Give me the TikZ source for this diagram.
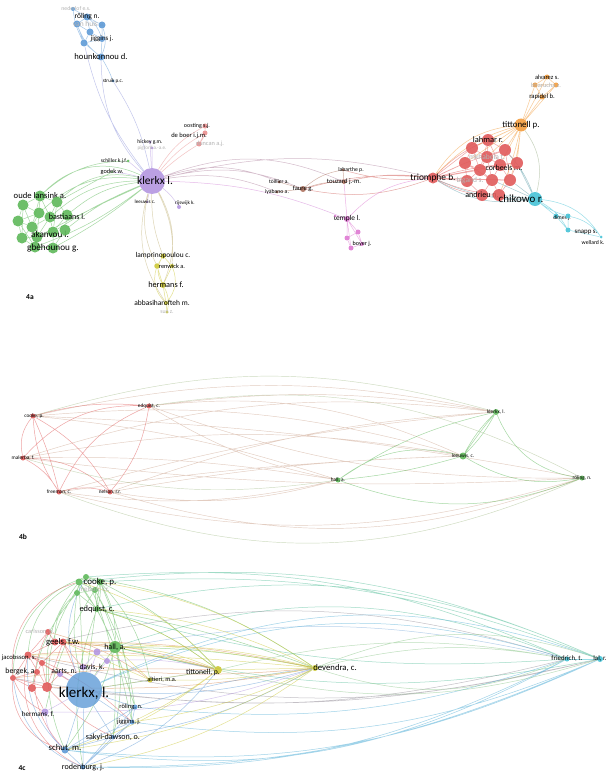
\documentclass[tikz,border=0pt]{standalone}
\usepackage{fontspec}
\setmainfont{Carlito}
\usetikzlibrary{backgrounds}

\definecolor{vBlue}{RGB}{95,155,215}
\definecolor{vGreen}{RGB}{95,185,90}
\definecolor{vPurple}{RGB}{180,150,225}
\definecolor{vRed}{RGB}{225,90,90}
\definecolor{vOrange}{RGB}{243,157,62}
\definecolor{vCyan}{RGB}{70,195,215}
\definecolor{vYellow}{RGB}{205,200,55}
\definecolor{vBrown}{RGB}{175,115,95}
\definecolor{vPink}{RGB}{222,120,210}
\definecolor{vRose}{RGB}{235,145,145}
\definecolor{vMix}{RGB}{185,130,100}

\begin{document}
\begin{tikzpicture}[
    x=1pt, y=-1pt,
    vtx/.style={circle, fill=#1, fill opacity=0.9, draw=none, inner sep=0pt},
    lab/.style={/utils/exec={\pgfmathsetmacro\labsize{1.15*#1}}, font=\fontsize{\labsize}{\labsize}\selectfont, text=black, text opacity=1, inner sep=0pt},
    faint/.style={text=black!30},
    ed/.style={draw=#1, line width=0.5pt, draw opacity=0.55},
    fade/.style={draw=#1, line width=0.45pt, draw opacity=0.4},
    tag/.style={font=\fontsize{7.5}{7.5}\selectfont\bfseries}
]
\useasboundingbox (0,0) rectangle (607,781);

% ================= 4a =================
% Blue cluster
\node[vtx=vBlue, minimum size=4, label={[lab=5,faint,xshift=3pt]center:nederlof e.s.}] (ned) at (73,9) {};
\node[vtx=vBlue, minimum size=7, label={[lab=6.5]center:röling n.}] (rol) at (87,17) {};
\node[vtx=vBlue, minimum size=7, label={[lab=6.5,faint,xshift=12pt]center:van huis a.}] (vhu) at (77,24) {};
\node[vtx=vBlue, minimum size=7] (bl3) at (102,25) {};
\node[vtx=vBlue, minimum size=7] (bl4) at (90,32) {};
\node[vtx=vBlue, minimum size=7] (bl5) at (84,43) {};
\node[vtx=vBlue, minimum size=6, label={[lab=6]center:jiggins j.}] (jig) at (102,39) {};
\node[vtx=vBlue, minimum size=7, label={[lab=7.5]center:hounkonnou d.}] (hou) at (101,57) {};
\node[vtx=vBlue, minimum size=3, label={[lab=4.5]center:struik p.c.}] (str) at (113,81) {};

% Purple (klerkx)
\node[vtx=vPurple, minimum size=26, label={[lab=10,xshift=3pt]center:klerkx l.}] (kle) at (152,181) {};
\node[vtx=vPurple, minimum size=3, label={[lab=4.8]center:hickey g.m.}] (hic) at (150,142) {};
\node[vtx=vPurple, minimum size=3, label={[lab=4.5,faint]center:pigford a.-a.e.}] (pig) at (152,148) {};
\node[vtx=vPurple, minimum size=2.5, label={[lab=4.5,xshift=-2pt]center:leeuwis c.}] (lee) at (147,202) {};
\node[vtx=vPurple, minimum size=4, label={[lab=4.5,xshift=6pt,yshift=4pt]center:rijswijk k.}] (rij) at (179,207) {};

% Rose
\node[vtx=vRose, minimum size=5, label={[lab=5.2,xshift=-8pt]center:oosting s.j.}] (oos) at (205,126) {};
\node[vtx=vRose, minimum size=5, label={[lab=5.7,xshift=-16pt,yshift=-3pt]center:de boer i.j.m.}] (dbo) at (205,133) {};
\node[vtx=vRose, minimum size=5, label={[lab=5.5,faint,xshift=11pt]center:duncan a.j.}] (dun) at (199,144) {};

% Green
\node[vtx=vGreen, minimum size=3, label={[lab=4.8,xshift=-14pt]center:schiller k.j.f.}] (sch) at (128,161) {};
\node[vtx=vGreen, minimum size=2, label={[lab=5.5]center:godek w.}] (god) at (112,172) {};
\node[vtx=vGreen, minimum size=11, label={[lab=7.5]center:oude lansink a.}] (gr1) at (40,196) {};
\node[vtx=vGreen, minimum size=11] (gr2) at (23,205) {};
\node[vtx=vGreen, minimum size=11] (gr3) at (57,202) {};
\node[vtx=vGreen, minimum size=11] (gr4) at (39,213) {};
\node[vtx=vGreen, minimum size=11] (gr5) at (18,221) {};
\node[vtx=vGreen, minimum size=11] (gr6) at (50,217) {};
\node[vtx=vGreen, minimum size=11, label={[lab=7,yshift=-2pt]center:bastiaans l.}] (gr7) at (67,215) {};
\node[vtx=vGreen, minimum size=11] (gr8) at (32,227) {};
\node[vtx=vGreen, minimum size=11] (gr9) at (22,238) {};
\node[vtx=vGreen, minimum size=11] (gr10) at (37,237) {};
\node[vtx=vGreen, minimum size=11, label={[lab=8,xshift=-3pt,yshift=-2pt]center:akanvou l.}] (gr11) at (53,232) {};
\node[vtx=vGreen, minimum size=11] (gr12) at (35,247) {};
\node[vtx=vGreen, minimum size=11, label={[lab=8]center:gbèhounou g.}] (gr13) at (53,248) {};
\node[vtx=vGreen, minimum size=11] (gr14) at (65,230) {};

% Yellow
\node[vtx=vYellow, minimum size=5, label={[lab=6.4]center:lamprinopoulou c.}] (lam) at (163,256) {};
\node[vtx=vYellow, minimum size=5.5] (ren1) at (157,266) {};
\node[vtx=vYellow, minimum size=4, label={[lab=5.5]center:renwick a.}] (ren2) at (172,266) {};
\node[vtx=vYellow, minimum size=6, label={[lab=7.2,xshift=3pt]center:hermans f.}] (her) at (163,285) {};
\node[vtx=vYellow, minimum size=4, label={[lab=6.5,xshift=-4pt]center:abbasiharofteh m.}] (abb) at (166,303) {};
\node[vtx=vYellow, minimum size=3, label={[lab=5,faint]center:sun z.}] (sun) at (167,312) {};

% Brown and pink
\node[vtx=vBrown, minimum size=3, label={[lab=4.8]center:toillier a.}] (toi) at (279,182) {};
\node[vtx=vBrown, minimum size=3, label={[lab=5]center:iyabano a.}] (iya) at (277,192) {};
\node[vtx=vBrown, minimum size=6, label={[lab=5.7]center:faure g.}] (fau) at (303,189) {};
\node[vtx=vBrown, minimum size=3, label={[lab=5,xshift=8pt]center:labarthe p.}] (lab) at (343,170) {};
\node[vtx=vBrown, minimum size=4, label={[lab=5.8]center:touzard j.-m.}] (tou) at (344,182) {};
\node[vtx=vPink, minimum size=6, label={[lab=6.4]center:temple l.}] (tem) at (347,219) {};
\node[vtx=vPink, minimum size=2.5] (tp0) at (335,216) {};
\node[vtx=vPink, minimum size=5] (by1) at (358,232) {};
\node[vtx=vPink, minimum size=5] (by2) at (347,238) {};
\node[vtx=vPink, minimum size=4, label={[lab=5.3]center:boyer j.}] (by3) at (362,244) {};
\node[vtx=vPink, minimum size=5] (by4) at (351,248) {};

% Red cluster
\node[vtx=vRed, minimum size=11, label={[lab=8.2]center:triomphe b.}] (tri) at (433,178) {};
\node[vtx=vRed, minimum size=12, label={[lab=7.3]center:lahmar r.}] (lah) at (488,140) {};
\node[vtx=vRed, minimum size=12] (rc2) at (505,150) {};
\node[vtx=vRed, minimum size=12] (rc3) at (472,148) {};
\node[vtx=vRed, minimum size=12, label={[lab=6.5,faint]center:mkhabela t.}] (rc4) at (487,157) {};
\node[vtx=vRed, minimum size=12] (rc5) at (465,163) {};
\node[vtx=vRed, minimum size=12, label={[lab=6.8,xshift=4pt,yshift=-3pt]center:corbeels m.}] (rc6) at (500,165) {};
\node[vtx=vRed, minimum size=12] (rc7) at (517,163) {};
\node[vtx=vRed, minimum size=12] (rc8) at (480,170) {};
\node[vtx=vRed, minimum size=12] (rc9) at (492,180) {};
\node[vtx=vRed, minimum size=12] (rc10) at (510,180) {};
\node[vtx=vRed, minimum size=12, label={[lab=6.5,faint,xshift=3pt]center:bigand s.}] (rc11) at (467,181) {};
\node[vtx=vRed, minimum size=12, label={[lab=7]center:andrieu n.}] (rc12) at (482,195) {};
\node[vtx=vRed, minimum size=12] (rc13) at (499,195) {};

% Orange
\node[vtx=vOrange, minimum size=13, label={[lab=7.7]center:tittonell p.}] (tit) at (521,125) {};
\node[vtx=vOrange, minimum size=5, label={[lab=5.6]center:alvarez s.}] (alv) at (547,77) {};
\node[vtx=vOrange, minimum size=5] (ora2) at (535,85) {};
\node[vtx=vOrange, minimum size=5, label={[lab=5.5,faint,xshift=-10pt]center:bharucha z.}] (ora3) at (556,85) {};
\node[vtx=vOrange, minimum size=5, label={[lab=5.8]center:rapidel b.}] (rap) at (542,97) {};

% Cyan
\node[vtx=vCyan, minimum size=14, label={[lab=9.5,xshift=-14pt]center:chikowo r.}] (chi) at (535,199) {};
\node[vtx=vCyan, minimum size=5, label={[lab=4.8,xshift=6pt,yshift=-2pt]center:dimes j.}] (dim) at (556,216) {};
\node[vtx=vCyan, minimum size=5] (cya2) at (568,216) {};
\node[vtx=vCyan, minimum size=5, label={[lab=6,xshift=18pt,yshift=-2pt]center:snapp s.}] (sna) at (568,230) {};
\node[vtx=vCyan, minimum size=3, label={[lab=5,xshift=-8pt,yshift=-6pt]center:wellard k.}] (wel) at (601,237) {};

\node[tag] (tag4a) at (30,297) {4a};

% ================= 4b =================
\node[vtx=vRed, minimum size=5, label={[lab=4.6,xshift=1pt]center:{cooke, p.}}] (bco) at (33,416) {};
\node[vtx=vRed, minimum size=5, label={[lab=4.6]center:{edquist, c.}}] (bed) at (149,406) {};
\node[vtx=vRed, minimum size=5, label={[lab=4.6]center:{malerba, f.}}] (bma) at (23,458) {};
\node[vtx=vRed, minimum size=5, label={[lab=4.6]center:{freeman, c.}}] (bfr) at (59,492) {};
\node[vtx=vRed, minimum size=5, label={[lab=4.6]center:{nelson, r.r.}}] (bne) at (110,492) {};
\node[vtx=vGreen, minimum size=6, label={[lab=4.6]center:{klerkx, l.}}] (bkl) at (496,412) {};
\node[vtx=vGreen, minimum size=7, label={[lab=4.6]center:{leeuwis, c.}}] (ble) at (463,456) {};
\node[vtx=vGreen, minimum size=5, label={[lab=4.6]center:{hall, a.}}] (bha) at (338,480) {};
\node[vtx=vGreen, minimum size=5, label={[lab=4.6]center:{röling, n.}}] (bro) at (582,478) {};

\node[tag] (tag4b) at (23,537) {4b};

% ================= 4c =================
% Green
\node[vtx=vGreen, minimum size=7] (ck1) at (79,582) {};
\node[vtx=vGreen, minimum size=6] (ck2) at (86,577) {};
\node[vtx=vGreen, minimum size=7, label={[lab=7.8]center:{cooke, p.}}] (ck3) at (100,582) {};
\node[vtx=vGreen, minimum size=6, label={[lab=6,faint]center:{nelson, r.r.}}] (ck4) at (95,590) {};
\node[vtx=vGreen, minimum size=6] (ck5) at (77,593) {};
\node[vtx=vGreen, minimum size=6, label={[lab=7.3]center:{edquist, c.}}] (edq) at (97,609) {};
\node[vtx=vGreen, minimum size=12, label={[lab=7]center:{hall, a.}}] (hal) at (115,647) {};
% Red
\node[vtx=vRed, minimum size=6, label={[lab=5.5,faint,xshift=-8pt]center:{carlsson, b.}}] (ge1) at (48,632) {};
\node[vtx=vRed, minimum size=7] (ge2) at (55,642) {};
\node[vtx=vRed, minimum size=7, label={[lab=7.5]center:{geels, f.w.}}] (ge3) at (63,642) {};
\node[vtx=vRed, minimum size=7, label={[lab=5.8,xshift=-9pt,yshift=-3pt]center:{jacobsson, s.}}] (jac) at (28,655) {};
\node[vtx=vRed, minimum size=6, label={[lab=6.8,xshift=8pt,yshift=7pt]center:{bergek, a.}}] (ber) at (13,678) {};
\node[vtx=vRed, minimum size=6] (rd1) at (42,663) {};
\node[vtx=vRed, minimum size=6] (rd2) at (37,672) {};
\node[vtx=vRed, minimum size=8] (rd3) at (32,688) {};
\node[vtx=vRed, minimum size=10] (rd4) at (47,687) {};
% Purple
\node[vtx=vPurple, minimum size=6, label={[lab=6.7,xshift=4pt,yshift=2pt]center:{aarts, n.}}] (aar) at (60,674) {};
\node[vtx=vPurple, minimum size=7] (dv1) at (97,652) {};
\node[vtx=vPurple, minimum size=6] (dv2) at (107,661) {};
\node[vtx=vPurple, minimum size=6, label={[lab=6.7,xshift=9pt]center:{davis, k.}}] (dav) at (83,667) {};
\node[vtx=vPurple, minimum size=7, label={[lab=6.2,xshift=-7pt,yshift=-2pt]center:{hermans, f.}}] (h4c) at (45,712) {};
% Blue
\node[vtx=vBlue, minimum size=36, fill opacity=0.8, label={[lab=13,yshift=-3pt]center:{klerkx, l.}}] (kl) at (84,690) {};
\node[vtx=vBlue, minimum size=5, label={[lab=5.6,xshift=-4pt]center:{röling, n.}}] (r4c) at (135,707) {};
\node[vtx=vBlue, minimum size=5, label={[lab=5.8,xshift=-3pt]center:{jiggins, j.}}] (j4c) at (132,722) {};
\node[vtx=vBlue, minimum size=4, label={[lab=7]center:{sakyi-dawson, o.}}] (sak) at (113,737) {};
\node[vtx=vBlue, minimum size=7, label={[lab=7.6,yshift=2pt]center:{schut, m.}}] (s4c) at (65,750) {};
\node[vtx=vBlue, minimum size=5, label={[lab=7]center:{rodenburg, j.}}] (rod) at (83,767) {};
% Yellow
\node[vtx=vYellow, minimum size=5, label={[lab=5.5,xshift=12pt]center:{altieri, m.a.}}] (alt) at (150,680) {};
\node[vtx=vYellow, minimum size=8, label={[lab=6.6,xshift=-15pt,yshift=-2pt]center:{tittonell, p.}}] (t4c) at (218,670) {};
\node[vtx=vYellow, minimum size=6, label={[lab=7.6,xshift=20pt]center:{devendra, c.}}] (dev) at (315,668) {};
% Cyan
\node[vtx=vCyan, minimum size=5, label={[lab=6]center:{friedrich, t.}}] (fri) at (567,659) {};
\node[vtx=vCyan, minimum size=6, label={[lab=6]center:{lal, r.}}] (lal) at (600,659) {};

\node[tag] (tag4c) at (22,768) {4c};

\begin{scope}[on background layer]
\fill[white] (0,0) rectangle (607,781);

% ---- 4a links ----
% blue cluster
\draw[ed=vBlue] (ned) -- (rol) (ned) to[bend right=10] (bl5) (rol) -- (bl3) (rol) -- (bl4) (rol) -- (vhu) (vhu) -- (bl4) (vhu) -- (bl5) (bl3) -- (jig) (bl4) -- (jig) (bl4) -- (bl5) (bl5) -- (jig) (bl3) to[bend left=20] (hou) (jig) -- (hou) (bl5) -- (hou) (vhu) to[bend right=15] (hou) (rol) to[bend left=15] (jig) (hou) to[bend left=5] (str);
\draw[ed=vPurple!60!vBlue] (hou) to[bend right=20] (kle) (str) to[bend left=10] (kle) (bl5) to[bend right=12] (kle);

% klerkx neighbours
\draw[ed=vPurple] (kle) -- (hic) (kle) -- (pig) (kle) -- (lee) (kle) to[bend left=10] (rij) (kle) -- (sch) (kle) to[bend right=5] (god);
\draw[ed=vRose] (kle) to[bend left=15] (oos) (kle) to[bend left=10] (dbo) (kle) to[bend left=5] (dun) (oos) -- (dbo) (dbo) -- (dun) (oos) to[bend left=20] (dun);

% green cluster
\draw[ed=vGreen] (gr1) -- (gr2) (gr1) -- (gr3) (gr1) -- (gr4) (gr1) -- (gr6) (gr2) -- (gr4) (gr2) -- (gr5) (gr3) -- (gr6) (gr3) -- (gr7) (gr4) -- (gr5) (gr4) -- (gr6) (gr4) -- (gr8) (gr5) -- (gr8) (gr5) -- (gr9) (gr6) -- (gr7) (gr6) -- (gr11) (gr6) -- (gr8) (gr7) -- (gr14) (gr8) -- (gr9) (gr8) -- (gr10) (gr8) -- (gr12) (gr9) -- (gr12) (gr10) -- (gr12) (gr10) -- (gr11) (gr11) -- (gr13) (gr11) -- (gr14) (gr12) -- (gr13) (gr13) -- (gr14) (gr1) -- (gr8) (gr3) -- (gr11) (gr2) -- (gr8) (gr4) -- (gr10) (gr7) -- (gr11) (gr9) -- (gr10) (gr5) -- (gr12) (gr2) -- (gr9) (gr6) -- (gr10);
\draw[ed=vGreen] (gr1) to[bend left=35] (kle) (gr3) to[bend left=28] (kle) (gr4) to[bend left=25] (kle) (gr6) to[bend left=20] (kle) (gr7) to[bend left=16] (kle) (gr14) to[bend left=8] (kle) (gr11) to[bend left=5] (kle) (gr10) to[bend left=2] (kle) (gr13) to[bend right=5] (kle) (gr12) to[bend right=8] (kle) (sch) to[bend right=20] (gr1) (god) -- (gr3);

% yellow
\draw[ed=vYellow] (lam) -- (ren1) (lam) -- (ren2) (ren1) -- (her) (ren2) -- (her) (ren1) to[bend right=30] (abb) (ren2) to[bend left=30] (abb) (her) -- (abb) (abb) -- (sun) (her) to[bend left=20] (sun) (lam) to[bend right=30] (her);
\draw[ed=vYellow!60!vPurple] (kle) to[bend right=20] (ren1) (kle) to[bend left=15] (ren2) (kle) to[bend right=10] (lam) (kle) to[bend left=25] (her) (kle) to[bend right=25] (abb);

% links to the right
\draw[ed=vPurple!50!vBrown] (kle) to[bend left=20] (toi) (kle) to[bend left=15] (iya) (kle) to[bend left=18] (fau) (kle) to[bend left=22] (tou) (kle) to[bend left=14] (tri);
\draw[ed=vPink!70!vPurple] (kle) to[bend left=10] (tem);
\draw[ed=vBrown] (toi) -- (fau) (iya) -- (fau) (fau) to[bend left=10] (tou) (fau) to[bend left=15] (lab) (lab) -- (tou);
\draw[ed=vRed!70!vBrown] (fau) to[bend left=10] (tri) (fau) to[bend right=15] (tri) (tou) to[bend left=10] (tri) (lab) to[bend right=10] (tri);
\draw[ed=vPink] (tem) -- (tou) (tem) -- (tp0) (tem) -- (by1) (tem) -- (by2) (tem) -- (by3) (tem) -- (by4) (by1) -- (by3) (by2) -- (by4) (by3) -- (by4) (by1) -- (by2) (tem) to[bend left=20] (tri);

% red cluster
\draw[ed=vRed] (tri) to[bend left=10] (lah) (tri) -- (rc3) (tri) -- (rc5) (tri) -- (rc8) (tri) -- (rc11) (tri) to[bend right=10] (rc12) (tri) to[bend right=8] (rc13) (tri) to[bend left=5] (rc2) (tri) -- (rc6) (tri) -- (rc9) (tri) -- (rc10) (tri) to[bend left=5] (rc7);
\draw[ed=vRed] (lah) -- (rc2) (lah) -- (rc3) (lah) -- (rc4) (lah) -- (rc6) (rc2) -- (rc7) (rc2) -- (rc4) (rc3) -- (rc5) (rc3) -- (rc4) (rc4) -- (rc6) (rc4) -- (rc8) (rc5) -- (rc8) (rc5) -- (rc11) (rc6) -- (rc7) (rc6) -- (rc9) (rc6) -- (rc10) (rc7) -- (rc10) (rc8) -- (rc9) (rc8) -- (rc11) (rc9) -- (rc10) (rc9) -- (rc12) (rc9) -- (rc13) (rc10) -- (rc13) (rc11) -- (rc12) (rc12) -- (rc13) (rc5) -- (rc9) (rc3) -- (rc8) (rc4) -- (rc9) (lah) -- (rc8) (rc2) -- (rc10);

% orange
\draw[ed=vOrange] (tit) -- (alv) (tit) -- (ora2) (tit) -- (ora3) (tit) -- (rap) (alv) -- (ora2) (alv) -- (ora3) (ora2) -- (rap) (ora3) -- (rap) (ora2) -- (ora3) (tit) to[bend right=25] (tri) (tit) to[bend right=15] (tri) (tit) -- (lah) (tit) -- (rc2) (tit) -- (rc3) (tit) -- (rc4) (tit) -- (rc6) (tit) -- (rc7) (tit) -- (rc5) (tit) to[bend left=5] (rc10) (tit) to[bend left=5] (rc13);
\draw[ed=vOrange!50!vCyan] (tit) to[bend left=25] (chi);

% cyan
\draw[ed=vCyan] (chi) -- (dim) (chi) to[bend right=10] (cya2) (chi) to[bend left=15] (sna) (chi) to[bend left=25] (wel) (dim) -- (cya2) (cya2) -- (sna) (dim) -- (sna) (sna) -- (wel) (cya2) to[bend left=20] (wel);
\draw[ed=vCyan!50!gray] (chi) to[bend left=20] (tri) (chi) to[bend left=12] (tri) (chi) -- (rc13) (chi) -- (rc10) (chi) -- (rc7) (chi) to[bend left=8] (rc12) (chi) -- (rc9) (chi) to[bend right=10] (rc2);

% ---- 4b links ----
\draw[ed=vRed] (bco) to[bend right=25] (bma) (bco) to[bend left=10] (bed) (bco) to[bend left=15] (bne) (bco) to[bend left=5] (bfr) (bma) to[bend left=25] (bed) (bma) to[bend left=15] (bfr) (bma) to[bend left=20] (bne) (bfr) to[bend left=15] (bne) (bfr) to[bend left=20] (bed) (bne) to[bend right=15] (bed) (bco) to[bend right=15] (bfr);
\draw[fade=vMix] (bco) to[bend left=12] (bkl) (bco) to[bend left=10] (ble) (bco) to[bend left=6] (bha) (bco) to[bend left=4] (bro) (bed) to[bend left=8] (bkl) (bed) to[bend left=15] (ble) (bed) to[bend right=10] (bha) (bed) to[bend right=10] (bro) (bma) to[bend left=12] (bkl) (bma) to[bend left=10] (ble) (bma) to[bend left=5] (bha) (bma) to[bend right=5] (bro) (bfr) to[bend left=5] (bkl) (bfr) to[bend left=3] (ble) (bfr) to[bend right=10] (bha) (bfr) to[bend right=15] (bro) (bne) to[bend left=8] (bkl) (bne) to[bend left=4] (ble) (bne) to[bend right=12] (bha) (bne) to[bend right=18] (bro);
\draw[fade=vGreen!60!vMix] (bed) to[bend left=18] (bro) (bco) to[bend left=16] (bkl) (bfr) to[bend right=22] (bro) (bma) to[bend right=12] (bha);
\draw[ed=vGreen] (ble) to[bend left=8] (bkl) (ble) to[bend right=8] (bkl) (ble) to[bend left=2] (bkl) (bha) to[bend left=10] (bkl) (bha) to[bend left=25] (ble) (bha) to[bend right=5] (ble) (bkl) to[bend right=30] (bro) (ble) to[bend right=20] (bro) (bha) to[bend right=20] (bro);

% ---- 4c links ----
% green
\draw[ed=vGreen] (ck1) -- (ck2) (ck2) -- (ck3) (ck1) -- (ck5) (ck3) -- (ck4) (ck4) -- (ck5) (ck1) -- (ck4) (ck3) to[bend left=10] (edq) (ck4) -- (edq) (ck5) -- (edq) (ck1) to[bend right=5] (edq) (edq) -- (hal) (ck3) to[bend left=15] (hal) (ck1) to[bend left=5] (hal) (ck3) -- (kl) (ck1) -- (kl) (ck5) to[bend right=10] (kl) (ck2) to[bend right=35] (ber) (ck1) to[bend right=30] (jac) (ck5) to[bend right=25] (ge2) (ck1) to[bend right=20] (rd4) (ck3) to[bend right=10] (h4c) (ck4) to[bend left=10] (r4c) (ck3) to[bend left=10] (j4c) (ck2) to[bend left=15] (sak) (ck2) to[bend right=30] (s4c) (ck3) to[bend left=10] (t4c) (ck3) to[bend left=15] (alt) (edq) to[bend left=10] (t4c) (ck2) to[bend left=12] (dev) (edq) to[bend left=5] (dev) (hal) -- (t4c) (hal) to[bend left=5] (dev) (hal) -- (kl) (hal) -- (r4c) (hal) -- (j4c) (hal) to[bend left=10] (s4c) (edq) to[bend right=15] (rod) (ck4) to[bend left=20] (sak) (ck5) to[bend right=15] (rd3);
\draw[ed=vGreen!50!vCyan] (ck3) to[bend left=12] (lal) (ck2) to[bend left=14] (fri) (edq) to[bend left=18] (lal) (hal) to[bend left=20] (fri) (ck1) to[bend left=15] (lal) (edq) to[bend right=10] (fri) (hal) to[bend right=12] (lal);
% red
\draw[ed=vRed] (ge1) -- (ge2) (ge2) -- (ge3) (ge1) -- (jac) (ge2) -- (jac) (jac) -- (rd1) (rd1) -- (rd2) (rd2) -- (ber) (ber) -- (rd3) (rd3) -- (rd4) (rd4) -- (rd1) (jac) -- (ber) (ge3) -- (rd4) (rd1) -- (ge3) (rd2) -- (rd3) (jac) -- (rd4) (ber) -- (rd4) (ge3) -- (kl) (jac) -- (kl) (rd1) -- (kl) (ber) to[bend right=20] (h4c) (rd3) -- (h4c) (ge3) -- (dv1) (ge2) -- (hal) (ge3) to[bend right=5] (dav) (rd4) -- (aar) (ber) to[bend right=40] (s4c) (jac) to[bend right=40] (rod) (ge1) to[bend right=35] (s4c) (ber) to[bend left=40] (ck1) (jac) to[bend left=10] (j4c) (rd4) to[bend right=10] (sak);
\draw[ed=vRed!60!vYellow] (ge2) to[bend left=8] (t4c) (jac) to[bend left=10] (t4c) (ge3) to[bend left=6] (dev) (jac) to[bend right=8] (dev) (ge1) to[bend left=10] (alt) (ber) to[bend left=4] (t4c) (rd4) to[bend right=6] (dev);
\draw[ed=vRed!50!vCyan] (ber) to[bend right=12] (fri) (rd4) to[bend right=10] (lal) (ge2) to[bend left=15] (fri) (jac) to[bend right=14] (lal);
% purple
\draw[ed=vPurple] (dv1) -- (kl) (dv2) -- (kl) (dav) -- (kl) (dv1) -- (dv2) (dv1) -- (dav) (h4c) -- (kl) (h4c) to[bend right=20] (s4c) (aar) -- (kl) (dv2) to[bend left=8] (t4c) (h4c) to[bend right=10] (dev);
\draw[ed=vPurple!50!vCyan] (dv1) to[bend left=12] (fri);
% blue
\draw[ed=vBlue] (kl) -- (s4c) (kl) -- (rod) (kl) -- (sak) (kl) -- (j4c) (kl) -- (r4c) (s4c) -- (rod) (s4c) -- (sak) (s4c) -- (j4c) (rod) -- (j4c) (rod) -- (sak) (r4c) -- (j4c) (sak) -- (j4c) (s4c) -- (r4c) (rod) -- (r4c) (kl) to[bend right=10] (dev) (kl) -- (t4c) (kl) -- (alt) (r4c) to[bend left=5] (dev) (sak) to[bend right=10] (dev) (rod) to[bend right=15] (t4c) (rod) to[bend left=30] (ber) (s4c) to[bend left=25] (jac) (kl) to[bend left=25] (ck2);
\draw[ed=vBlue!50!vCyan] (kl) to[bend left=20] (fri) (kl) to[bend left=22] (lal) (s4c) to[bend right=18] (fri) (s4c) to[bend right=15] (lal) (rod) to[bend right=12] (lal) (rod) to[bend right=14] (fri) (j4c) to[bend right=15] (lal) (r4c) to[bend right=12] (fri);
% yellow
\draw[ed=vYellow] (t4c) -- (alt) (t4c) to[bend right=10] (hal) (t4c) to[bend right=5] (ge3) (t4c) to[bend right=10] (edq) (t4c) to[bend left=10] (s4c) (t4c) to[bend left=5] (j4c) (alt) -- (kl) (alt) -- (hal) (alt) -- (ge3) (dev) -- (t4c) (dev) to[bend left=5] (alt) (dev) to[bend right=8] (hal) (dev) to[bend right=12] (ck3) (dev) to[bend right=10] (edq) (dev) to[bend left=10] (s4c) (dev) to[bend left=12] (rod) (dev) to[bend left=8] (j4c) (dev) to[bend right=5] (ge2) (t4c) to[bend right=15] (ck1) (dev) to[bend right=3] (jac);
\draw[ed=vYellow!50!vCyan] (dev) to[bend left=20] (lal) (dev) to[bend right=20] (fri) (dev) to[bend left=12] (fri) (t4c) to[bend right=15] (lal) (t4c) to[bend left=12] (fri);
% cyan
\draw[ed=vCyan] (fri) -- (lal);
\end{scope}
\end{tikzpicture}
\end{document}
